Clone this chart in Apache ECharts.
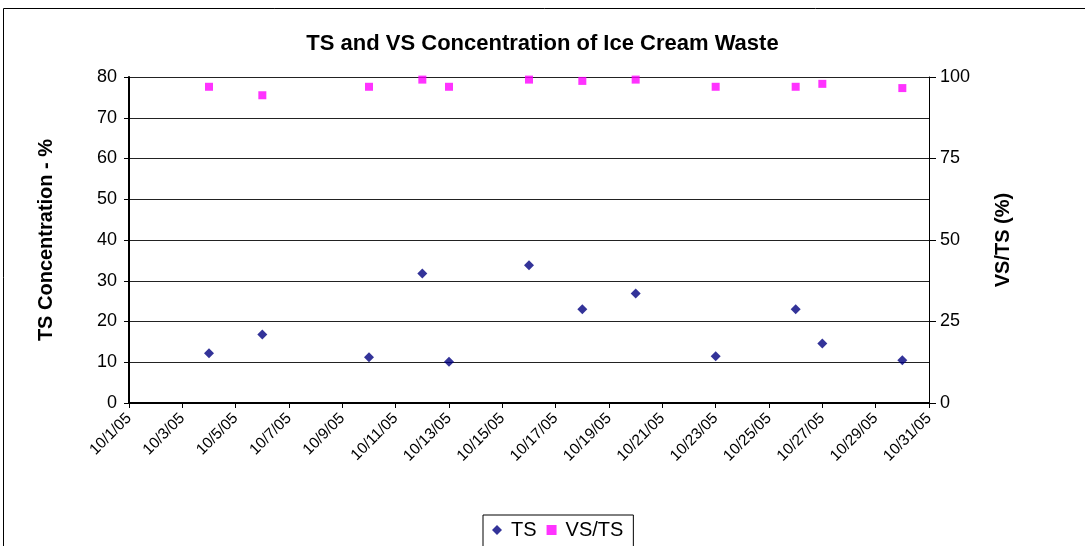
<!DOCTYPE html>
<html>
<head>
<meta charset="utf-8">
<script src="https://cdn.jsdelivr.net/npm/echarts@6/dist/echarts.min.js"></script>
<style>
  html, body { margin: 0; padding: 0; background: #fff; }
  #chart { width: 1085px; height: 546px; }
</style>
</head>
<body>
<div id="chart"></div>
<script>
// sample dates (October 2005) and measured values
var dates = ['10/4/05', '10/6/05', '10/10/05', '10/12/05', '10/13/05', '10/16/05',
             '10/18/05', '10/20/05', '10/23/05', '10/26/05', '10/27/05', '10/30/05'];
var tsValues = [12.2, 16.8, 11.2, 31.8, 10.1, 33.8, 23.0, 26.9, 11.5, 23.0, 14.6, 10.5];
var vsTsValues = [97.0, 94.4, 97.0, 99.2, 97.0, 99.2, 98.8, 99.2, 97.0, 97.0, 97.9, 96.6];

// days counted from 10/1/05
function dayOffset(d) {
  return parseInt(d.split('/')[1], 10) - 1;
}
function pairs(vals) {
  return dates.map(function (d, i) { return [dayOffset(d), vals[i]]; });
}

var font = 'Liberation Sans, Arial, sans-serif';
var chart = echarts.init(document.getElementById('chart'));

chart.setOption({
  backgroundColor: '#fff',
  animation: false,
  textStyle: { fontFamily: font },
  graphic: [{
    type: 'rect',
    shape: { x: 3.5, y: 8.5, width: 1100, height: 600 },
    style: { fill: 'none', stroke: '#000', lineWidth: 1 },
    silent: true
  }],
  title: {
    text: 'TS and VS Concentration of Ice Cream Waste',
    left: 'center',
    top: 28,
    textStyle: { fontFamily: font, fontSize: 22, fontWeight: 'bold', color: '#000' }
  },
  legend: {
    top: 515,
    left: 483,
    borderColor: '#000',
    borderWidth: 1,
    padding: [5, 10, 12, 9],
    itemGap: 10,
    itemWidth: 10,
    itemHeight: 10,
    textStyle: { fontFamily: font, fontSize: 20, color: '#000', padding: [0, 0, 0, 4] },
    data: [
      { name: 'TS', icon: 'diamond' },
      { name: 'VS/TS', icon: 'rect' }
    ]
  },
  grid: { left: 129, right: 156, top: 77, bottom: 143 },
  xAxis: {
    type: 'value',
    min: 0,
    max: 30,
    interval: 2,
    axisLine: { onZero: false, lineStyle: { color: '#000', width: 2 } },
    axisTick: { show: true, length: 5, lineStyle: { color: '#000' } },
    splitLine: { show: false },
    axisLabel: {
      rotate: 45,
      margin: 13,
      fontSize: 15.5,
      color: '#000',
      formatter: function (v) { return '10/' + (v + 1) + '/05'; }
    }
  },
  yAxis: [{
    type: 'value',
    min: 0,
    max: 80,
    interval: 10,
    name: 'TS Concentration - %',
    nameLocation: 'middle',
    nameGap: 73,
    nameTextStyle: { fontFamily: font, fontSize: 20, fontWeight: 'bold', color: '#000' },
    axisLine: { show: true, lineStyle: { color: '#000', width: 2 } },
    axisTick: { show: true, length: 5, lineStyle: { color: '#000' } },
    axisLabel: { fontSize: 18, color: '#000', margin: 12 },
    splitLine: { show: true, lineStyle: { color: '#222', width: 1 } }
  }, {
    type: 'value',
    min: 0,
    max: 100,
    interval: 25,
    name: 'VS/TS (%)',
    nameLocation: 'middle',
    nameGap: 64,
    nameTextStyle: { fontFamily: font, fontSize: 20, fontWeight: 'bold', color: '#000' },
    axisLine: { show: true, lineStyle: { color: '#000', width: 1 } },
    axisTick: { show: true, length: 7, lineStyle: { color: '#000' } },
    axisLabel: { fontSize: 18, color: '#000', margin: 11 },
    splitLine: { show: false }
  }],
  series: [{
    name: 'TS',
    type: 'scatter',
    yAxisIndex: 0,
    symbol: 'diamond',
    symbolSize: 10,
    itemStyle: { color: '#000080' },
    data: pairs(tsValues)
  }, {
    name: 'VS/TS',
    type: 'scatter',
    yAxisIndex: 1,
    symbol: 'rect',
    symbolSize: 8,
    itemStyle: { color: '#ff00ff' },
    data: pairs(vsTsValues)
  }]
});
</script>
</body>
</html>
